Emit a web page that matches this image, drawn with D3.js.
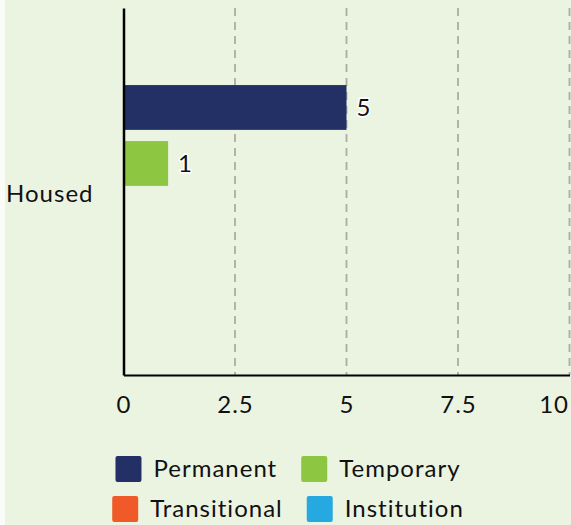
<!DOCTYPE html>
<html>
<head>
<meta charset="utf-8">
<script src="https://cdn.jsdelivr.net/npm/d3@7"></script>
<style>
  body { margin: 0; background: #fafcf7; }
  text { font-family: Lato, sans-serif; fill: #111; }
</style>
</head>
<body>
<div id="chart"></div>
<script>
// chart values
var categories = ["Housed"];
var seriesNames = ["Permanent", "Temporary", "Transitional", "Institution"];
var seriesValues = [5, 1, 0, 0];
var seriesColors = ["#223066", "#8dc641", "#f05a28", "#26a9e0"];
var xTicks = [0, 2.5, 5, 7.5, 10];
var xTickLabels = ["0", "2.5", "5", "7.5", "10"];

var w = 571, h = 525;
var plot = {left: 123.5, right: 569.5, top: 8, bottom: 375};
var fontSize = 24, spacing = 1;

var svg = d3.select("#chart").append("svg")
  .attr("width", w)
  .attr("height", h);

// background (thin lighter strip on the left)
svg.append("rect")
  .attr("x", 5).attr("y", 0)
  .attr("width", w - 5).attr("height", h)
  .attr("fill", "#ebf4e1");

var x = d3.scaleLinear().domain([0, 10]).range([plot.left, plot.right]);

var y0 = d3.scaleBand().domain(categories)
  .range([plot.top, plot.bottom])
  .paddingInner(0).paddingOuter(0.362);

var y1 = d3.scaleBand().domain(seriesNames)
  .range([0, y0.bandwidth()])
  .paddingInner(0.2).paddingOuter(0);

// dashed gridlines
svg.append("g")
  .selectAll("line")
  .data(xTicks.filter(function(d) { return d > 0; }))
  .enter()
  .append("line")
  .attr("x1", function(d) { return x(d); })
  .attr("x2", function(d) { return x(d); })
  .attr("y1", plot.top)
  .attr("y2", plot.bottom)
  .attr("stroke", "#a9ada5")
  .attr("stroke-width", 1.8)
  .attr("stroke-dasharray", "8,6");

// bars
var groups = svg.append("g")
  .selectAll("g")
  .data(categories)
  .enter()
  .append("g")
  .attr("transform", function(d) { return "translate(0," + y0(d) + ")"; });

groups.selectAll("rect")
  .data(function() {
    return seriesNames.map(function(s, i) { return {name: s, value: seriesValues[i], color: seriesColors[i]}; });
  })
  .enter()
  .append("rect")
  .attr("x", x(0))
  .attr("y", function(d) { return y1(d.name); })
  .attr("width", function(d) { return x(d.value) - x(0); })
  .attr("height", y1.bandwidth())
  .attr("fill", function(d) { return d.color; });

// value labels with white halo
groups.selectAll("text.val")
  .data(function() {
    return seriesNames.map(function(s, i) { return {name: s, value: seriesValues[i]}; })
      .filter(function(d) { return d.value > 0; });
  })
  .enter()
  .append("text")
  .attr("class", "val")
  .attr("x", function(d) { return x(d.value) + 10; })
  .attr("y", function(d) { return y1(d.name) + y1.bandwidth() / 2; })
  .attr("dy", "0.35em")
  .attr("font-size", fontSize)
  .attr("stroke", "#fff")
  .attr("stroke-width", 3)
  .attr("paint-order", "stroke")
  .text(function(d) { return d.value; });

// x axis
var xAxis = d3.axisBottom(x)
  .tickValues(xTicks)
  .tickFormat(function(d, i) { return xTickLabels[i]; })
  .tickSize(0)
  .tickPadding(21);

var gx = svg.append("g")
  .attr("transform", "translate(0," + plot.bottom + ")")
  .call(xAxis);
gx.select(".domain").attr("stroke", "#000").attr("stroke-width", 2);
gx.selectAll("text")
  .attr("font-size", fontSize)
  .attr("font-family", "Lato, sans-serif")
  .attr("letter-spacing", spacing)
  .attr("fill", "#111");
// keep the last label inside the picture
gx.selectAll(".tick").filter(function(d) { return d === 10; })
  .select("text").attr("text-anchor", "end").attr("x", -1);

// y axis
var yAxis = d3.axisLeft(y0).tickSize(0).tickPadding(30);
var gy = svg.append("g")
  .attr("transform", "translate(" + plot.left + ",0)")
  .call(yAxis);
gy.select(".domain").attr("stroke", "#000").attr("stroke-width", 2.5);
gy.selectAll("text")
  .attr("font-size", fontSize)
  .attr("font-family", "Lato, sans-serif")
  .attr("letter-spacing", spacing)
  .attr("dy", "0.45em")
  .attr("fill", "#111");

// legend, two centred rows
var legendRows = [[0, 1], [2, 3]];
var legendCenter = 288;
var sq = 26, textGap = 12, itemGap = 24;
legendRows.forEach(function(row, r) {
  var g = svg.append("g");
  var cx = 0;
  row.forEach(function(i) {
    var item = g.append("g").attr("transform", "translate(" + cx + ",0)");
    item.append("rect")
      .attr("width", sq).attr("height", sq)
      .attr("rx", 2)
      .attr("fill", seriesColors[i]);
    var t = item.append("text")
      .attr("x", sq + textGap)
      .attr("y", sq / 2)
      .attr("dy", "0.35em")
      .attr("font-size", fontSize)
      .attr("letter-spacing", spacing)
      .text(seriesNames[i]);
    cx += sq + textGap + t.node().getComputedTextLength() + itemGap;
  });
  var total = cx - itemGap;
  g.attr("transform", "translate(" + (legendCenter - total / 2) + "," + (456 + r * 40) + ")");
});
</script>
</body>
</html>
